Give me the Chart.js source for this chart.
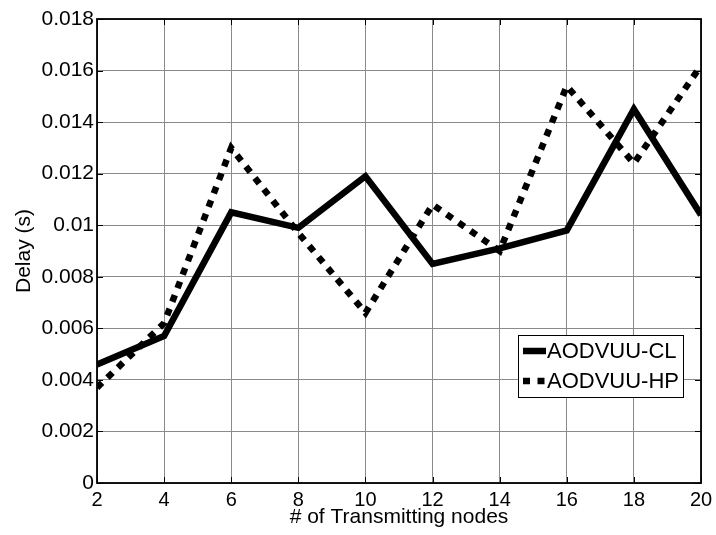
<!DOCTYPE html>
<html>
<head>
<meta charset="utf-8">
<script src="https://cdn.jsdelivr.net/npm/chart.js@4/dist/chart.umd.min.js"></script>
<style>
html,body{margin:0;padding:0;background:#fff;}
#wrap{width:716px;height:535px;position:relative;}
</style>
</head>
<body>
<div id="wrap"><canvas id="c" width="716" height="535"></canvas></div>
<script>
const nodes = [2, 4, 6, 8, 10, 12, 14, 16, 18, 20];
const delayCL = [0.0046, 0.0057, 0.0105, 0.0099, 0.0119, 0.0085, 0.0091, 0.0098, 0.0145, 0.0104];
const delayHP = [0.0037, 0.0062, 0.0130, 0.0097, 0.0066, 0.0108, 0.0090, 0.0154, 0.0124, 0.0162];
const seriesNames = ['AODVUU-CL', 'AODVUU-HP'];
const xTitle = '# of Transmitting nodes';
const yTitle = 'Delay (s)';

const FONT = 'Liberation Sans, Arial, sans-serif';

const boxTicks = {
  id: 'boxTicks',
  afterDraw(chart) {
    const ctx = chart.ctx, a = chart.chartArea;
    const xs = chart.scales.x, ys = chart.scales.y;
    ctx.save();
    ctx.strokeStyle = '#000';
    ctx.lineWidth = 1;
    const L = 6;
    ctx.beginPath();
    xs.ticks.forEach(t => {
      const px = Math.round(xs.getPixelForValue(t.value)) + 0.5;
      ctx.moveTo(px, a.bottom); ctx.lineTo(px, a.bottom - L);
      ctx.moveTo(px, a.top); ctx.lineTo(px, a.top + L);
    });
    ys.ticks.forEach(t => {
      const py = Math.round(ys.getPixelForValue(t.value)) + 0.5;
      ctx.moveTo(a.left, py); ctx.lineTo(a.left + L, py);
      ctx.moveTo(a.right, py); ctx.lineTo(a.right - L, py);
    });
    ctx.stroke();
    ctx.lineWidth = 1.8;
    ctx.strokeRect(a.left, a.top, a.right - a.left, a.bottom - a.top);

    // legend
    const lx = 518, ly = 335, lw = 165, lh = 62;
    ctx.fillStyle = '#fff';
    ctx.fillRect(lx, ly, lw, lh);
    ctx.lineWidth = 1;
    ctx.strokeStyle = '#000';
    ctx.strokeRect(lx + 0.5, ly + 0.5, lw, lh);
    ctx.font = '22px ' + FONT;
    ctx.fillStyle = '#000';
    ctx.textBaseline = 'middle';
    chart.data.datasets.forEach((ds, i) => {
      const yy = ly + 16 + i * 30;
      ctx.save();
      ctx.strokeStyle = '#000';
      ctx.lineWidth = ds.borderWidth;
      ctx.lineCap = 'butt';
      ctx.setLineDash(ds.borderDash || []);
      ctx.beginPath();
      ctx.moveTo(lx + 5, yy); ctx.lineTo(lx + 28, yy);
      ctx.stroke();
      ctx.restore();
      ctx.fillText(ds.label, lx + 29, yy + 1);
    });
    ctx.restore();
  }
};

function zeroPad(s) { s.paddingLeft = 0; s.paddingRight = 0; s.paddingTop = 0; s.paddingBottom = 0; }

new Chart(document.getElementById('c'), {
  type: 'line',
  data: {
    labels: nodes,
    datasets: [
      {
        label: seriesNames[0],
        data: nodes.map((n, i) => ({x: n, y: delayCL[i]})),
        borderColor: '#000', borderWidth: 6.5,
        borderJoinStyle: 'miter', borderCapStyle: 'butt',
        pointRadius: 0, tension: 0, fill: false
      },
      {
        label: seriesNames[1],
        data: nodes.map((n, i) => ({x: n, y: delayHP[i]})),
        borderColor: '#000', borderWidth: 6.5, borderDash: [7, 7.5],
        borderJoinStyle: 'miter', borderCapStyle: 'butt',
        pointRadius: 0, tension: 0, fill: false
      }
    ]
  },
  options: {
    responsive: false,
    animation: false,
    devicePixelRatio: 1,
    layout: {padding: {left: 0, right: 15, top: 19, bottom: 0}},
    plugins: {legend: {display: false}, tooltip: {enabled: false}},
    scales: {
      x: {
        type: 'linear', min: 2, max: 20,
        ticks: {stepSize: 2, color: '#000', font: {family: FONT, size: 20}, padding: 5, maxRotation: 0},
        grid: {color: '#8a8a8a', lineWidth: 1, drawTicks: false},
        border: {display: false},
        title: {display: true, text: xTitle, color: '#000', font: {family: FONT, size: 21}, padding: {top: 0, bottom: 5}},
        afterFit(s) { s.height = 52; zeroPad(s); }
      },
      y: {
        min: 0, max: 0.018,
        ticks: {stepSize: 0.002, color: '#000', font: {family: FONT, size: 21}, padding: 3,
          callback: v => { const r = Math.round(v * 1000) / 1000; return r === 0 ? '0' : String(r); }},
        grid: {color: '#8a8a8a', lineWidth: 1, drawTicks: false},
        border: {display: false},
        title: {display: true, text: yTitle, color: '#000', font: {family: FONT, size: 21}, padding: {top: 12, bottom: 0}},
        afterFit(s) { s.width = 97; zeroPad(s); }
      }
    }
  },
  plugins: [boxTicks]
});
</script>
</body>
</html>
